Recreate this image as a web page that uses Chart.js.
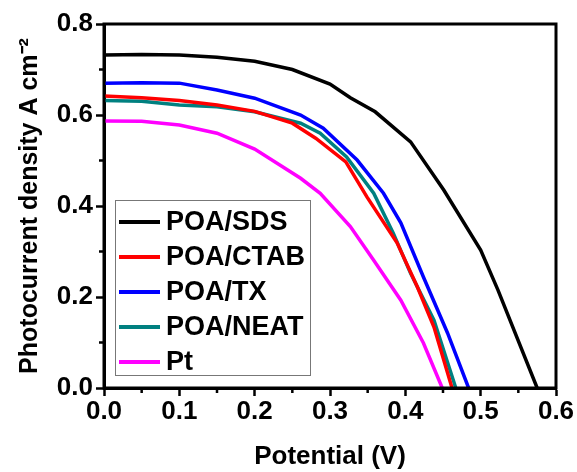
<!DOCTYPE html>
<html>
<head>
<meta charset="utf-8">
<script src="https://cdn.jsdelivr.net/npm/chart.js@4/dist/chart.umd.min.js"></script>
<style>
  html, body { margin: 0; padding: 0; background: #fff; }
  #wrap { width: 577px; height: 472px; position: relative; }
</style>
</head>
<body>
<div id="wrap"><canvas id="c" width="577" height="472"></canvas></div>
<script>
// Křivky J–V, hodnoty
const seriesNames = ['POA/SDS', 'POA/CTAB', 'POA/TX', 'POA/NEAT', 'Pt'];
const seriesColors = ['#000000', '#ff0000', '#0000ff', '#008080', '#ff00ff'];

const sdsV = [0, 0.05, 0.1, 0.15, 0.2, 0.25, 0.3, 0.327, 0.36, 0.407, 0.451, 0.5, 0.523, 0.575];
const sdsJ = [0.732, 0.733, 0.732, 0.727, 0.718, 0.700, 0.668, 0.638, 0.607, 0.541, 0.435, 0.303, 0.215, 0];

const ctabV = [0, 0.05, 0.1, 0.15, 0.2, 0.25, 0.281, 0.321, 0.349, 0.389, 0.416, 0.438, 0.462];
const ctabJ = [0.642, 0.638, 0.632, 0.622, 0.608, 0.582, 0.549, 0.497, 0.420, 0.319, 0.222, 0.134, 0];

const txV = [0, 0.05, 0.1, 0.15, 0.2, 0.261, 0.291, 0.336, 0.371, 0.394, 0.424, 0.456, 0.484];
const txJ = [0.670, 0.671, 0.670, 0.655, 0.637, 0.600, 0.571, 0.501, 0.428, 0.363, 0.244, 0.121, 0];

const neatV = [0, 0.05, 0.1, 0.15, 0.2, 0.261, 0.287, 0.322, 0.358, 0.384, 0.407, 0.438, 0.467];
const neatJ = [0.632, 0.630, 0.622, 0.618, 0.607, 0.582, 0.560, 0.508, 0.428, 0.340, 0.252, 0.149, 0];

const ptV = [0, 0.05, 0.1, 0.15, 0.2, 0.261, 0.287, 0.327, 0.358, 0.394, 0.424, 0.449];
const ptJ = [0.587, 0.586, 0.578, 0.560, 0.525, 0.461, 0.428, 0.355, 0.281, 0.193, 0.099, 0];

const xTicks = [0, 0.1, 0.2, 0.3, 0.4, 0.5, 0.6];
const yTicks = [0, 0.2, 0.4, 0.6, 0.8];
const xMinor = [0.05, 0.15, 0.25, 0.35, 0.45, 0.55];
const yMinor = [0.1, 0.3, 0.5, 0.7];

const allV = [sdsV, ctabV, txV, neatV, ptV];
const allJ = [sdsJ, ctabJ, txJ, neatJ, ptJ];

const FONT = '"Liberation Sans", Arial, sans-serif';

const datasets = seriesNames.map((name, i) => ({
    label: name,
    data: allV[i].map((v, k) => ({ x: v, y: allJ[i][k] })),
    borderColor: seriesColors[i],
    backgroundColor: seriesColors[i],
    borderWidth: 3.5,
    pointRadius: 0,
    tension: 0,
    fill: false,
}));

// rámeček grafu, vedlejší značky a legenda uvnitř plochy
const framePlugin = {
    id: 'frame',
    afterDraw(chart) {
        const { ctx, chartArea: a, scales } = chart;
        ctx.save();
        ctx.strokeStyle = '#000';
        ctx.lineWidth = 3;
        ctx.strokeRect(a.left, a.top, a.right - a.left, a.bottom - a.top);

        ctx.lineWidth = 2.5;
        ctx.beginPath();
        xMinor.forEach((v) => {
            const px = scales.x.getPixelForValue(v);
            ctx.moveTo(px, a.bottom);
            ctx.lineTo(px, a.bottom + 5);
        });
        yMinor.forEach((v) => {
            const py = scales.y.getPixelForValue(v);
            ctx.moveTo(a.left, py);
            ctx.lineTo(a.left - 5, py);
        });
        ctx.stroke();

        // legenda
        const lx = 115, ly = 200, lw = 195, lh = 175;
        ctx.fillStyle = '#fff';
        ctx.fillRect(lx, ly, lw, lh);
        ctx.strokeStyle = '#777';
        ctx.lineWidth = 1;
        ctx.strokeRect(lx + 0.5, ly + 0.5, lw, lh);
        ctx.font = 'bold 27px ' + FONT;
        ctx.textBaseline = 'middle';
        chart.data.datasets.forEach((ds, i) => {
            const y = ly + 22 + i * 35;
            ctx.strokeStyle = ds.borderColor;
            ctx.lineWidth = 4;
            ctx.beginPath();
            ctx.moveTo(lx + 4, y);
            ctx.lineTo(lx + 45, y);
            ctx.stroke();
            ctx.fillStyle = '#000';
            ctx.fillText(ds.label, lx + 51, y + 1);
        });
        ctx.restore();
    },
};

new Chart(document.getElementById('c'), {
    type: 'line',
    data: { datasets },
    options: {
        responsive: false,
        animation: false,
        layout: { padding: { top: 24, right: 21, left: 0, bottom: 0 } },
        plugins: { legend: { display: false }, tooltip: { enabled: false } },
        scales: {
            x: {
                type: 'linear', min: 0, max: 0.6,
                afterBuildTicks: (s) => { s.ticks = xTicks.map((v) => ({ value: v })); },
                afterFit: (s) => { s.height = 84; },
                ticks: {
                    color: '#000', padding: 0,
                    font: { family: FONT, size: 26, weight: 'bold' },
                    callback: (v) => v.toFixed(1),
                },
                grid: { drawOnChartArea: false, drawTicks: true, tickLength: 8, tickWidth: 2.5, tickColor: '#000' },
                border: { display: true, color: '#000', width: 3 },
                title: {
                    display: true, text: 'Potential (V)', color: '#000',
                    font: { family: FONT, size: 26, weight: 'bold' },
                    padding: { top: 0, bottom: 0 },
                },
            },
            y: {
                type: 'linear', min: 0, max: 0.8,
                afterBuildTicks: (s) => { s.ticks = yTicks.map((v) => ({ value: v })); },
                afterFit: (s) => { s.width = 104; },
                ticks: {
                    color: '#000', padding: 3,
                    font: { family: FONT, size: 26, weight: 'bold' },
                    callback: (v) => v.toFixed(1),
                },
                grid: { drawOnChartArea: false, drawTicks: true, tickLength: 8, tickWidth: 2.5, tickColor: '#000' },
                border: { display: true, color: '#000', width: 3 },
                title: {
                    display: true, text: 'Photocurrent density A cm\u207B\u00B2', color: '#000',
                    font: { family: FONT, size: 25, weight: 'bold' },
                    padding: { top: 15, bottom: 0 },
                },
            },
        },
    },
    plugins: [framePlugin],
});
</script>
</body>
</html>
